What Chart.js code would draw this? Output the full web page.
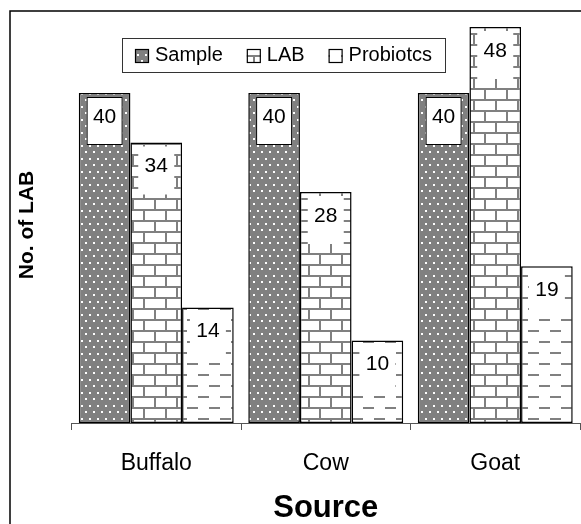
<!DOCTYPE html>
<html>
<head>
<meta charset="utf-8">
<script src="https://cdn.jsdelivr.net/npm/chart.js@4"></script>
<style>
  body { margin: 0; background: #fff; }
  canvas { display: block; }
</style>
</head>
<body>
<canvas id="chart" width="581" height="524"></canvas>
<script>
// ===== DATA =====
const categories = ["Buffalo", "Cow", "Goat"];
const seriesNames = ["Sample", "LAB", "Probiotcs"];
const sampleValues = [40, 40, 40];
const labValues = [34, 28, 48];
const probioticValues = [14, 10, 19];
const yMax = 50;

const FONT = "'Liberation Sans', Arial, sans-serif";
const GREY = "#808080";

const canvas = document.getElementById("chart");
const ctx = canvas.getContext("2d");

// ===== PATTERNS =====
function makePattern(w, h, bg, fg, rects) {
  const tile = document.createElement("canvas");
  tile.width = w;
  tile.height = h;
  const g = tile.getContext("2d");
  g.fillStyle = bg;
  g.fillRect(0, 0, w, h);
  g.fillStyle = fg;
  rects.forEach(r => g.fillRect(r[0], r[1], r[2], r[3]));
  return ctx.createPattern(tile, "repeat");
}

// grey with white dots
const dotsPattern = makePattern(8, 13, GREY, "#fff", [[1, 2, 2, 2], [5, 8, 2, 2]]);
// bricks
const brickPattern = makePattern(22, 22, "#fff", GREY, [
  [0, 0, 22, 2], [0, 11, 22, 2], [0, 0, 2, 11], [11, 11, 2, 11]
]);
// dashes
const dashPattern = makePattern(22, 22, "#fff", GREY, [[0, 0, 11, 2], [11, 11, 11, 2]]);

const patterns = [dotsPattern, brickPattern, dashPattern];

// ===== PLUGIN: frame, labels, legend, y title =====
const decorations = {
  id: "decorations",
  beforeDraw(chart) {
    const c = chart.ctx;
    c.save();
    c.strokeStyle = "#000";
    c.lineWidth = 1.5;
    c.beginPath();
    c.moveTo(10, 524);
    c.lineTo(10, 11);
    c.lineTo(581, 11);
    c.stroke();
    c.restore();
  },
  afterDatasetsDraw(chart) {
    const c = chart.ctx;
    c.save();
    c.font = "21px " + FONT;
    c.textAlign = "center";
    c.textBaseline = "middle";
    chart.data.datasets.forEach((ds, i) => {
      chart.getDatasetMeta(i).data.forEach((bar, j) => {
        const bx = bar.x - 18, by = bar.y + 4;
        c.fillStyle = "#fff";
        c.fillRect(bx, by, 36, 48);
        if (i === 0) {
          c.strokeStyle = "#000";
          c.lineWidth = 1;
          c.strokeRect(bx + 0.5, by + 0.5, 35, 47);
        }
        c.fillStyle = "#000";
        c.fillText(String(ds.data[j]), bar.x, bar.y + 24);
      });
    });
    c.restore();
  },
  afterDraw(chart) {
    const c = chart.ctx;
    c.save();
    // legend
    c.fillStyle = "#fff";
    c.fillRect(122, 38, 324, 35);
    c.strokeStyle = "#333";
    c.lineWidth = 1;
    c.strokeRect(122.5, 38.5, 323, 34);
    c.font = "20px " + FONT;
    c.textBaseline = "alphabetic";
    c.textAlign = "left";
    let x = 135;
    chart.data.datasets.forEach(ds => {
      c.fillStyle = ds.backgroundColor;
      c.fillRect(x, 49, 14, 14);
      c.strokeStyle = "#000";
      c.lineWidth = 1.2;
      c.strokeRect(x + 0.5, 49.5, 13, 13);
      c.fillStyle = "#000";
      c.fillText(ds.label, x + 20, 61);
      x += 20 + c.measureText(ds.label).width + 24;
    });
    // y title
    c.translate(27.5, 225);
    c.rotate(-Math.PI / 2);
    c.font = "bold 21px " + FONT;
    c.textAlign = "center";
    c.textBaseline = "middle";
    c.fillText("No. of LAB", 0, 0);
    c.restore();
  }
};

// ===== CHART =====
const valueSets = [sampleValues, labValues, probioticValues];

new Chart(canvas, {
  type: "bar",
  data: {
    labels: categories,
    datasets: seriesNames.map((name, i) => ({
      label: name,
      data: valueSets[i],
      backgroundColor: patterns[i],
      borderColor: "#000",
      borderWidth: 1.5,
      borderSkipped: false,
      categoryPercentage: 0.914,
      barPercentage: 1
    }))
  },
  options: {
    responsive: false,
    animation: false,
    devicePixelRatio: 1,
    layout: { padding: { top: 10.5, left: 71.5, right: 1, bottom: 0 } },
    plugins: {
      legend: { display: false },
      tooltip: { enabled: false }
    },
    scales: {
      x: {
        offset: true,
        grid: {
          offset: true,
          drawOnChartArea: false,
          drawTicks: true,
          tickLength: 7,
          color: "#555",
          lineWidth: 1
        },
        border: { display: true, color: "#555", width: 1 },
        ticks: {
          color: "#000",
          padding: 20,
          font: { family: FONT, size: 23 }
        },
        title: {
          display: true,
          text: "Source",
          color: "#000",
          font: { family: FONT, size: 31, weight: "bold", lineHeight: 1 },
          padding: { top: 0, bottom: 0 }
        },
        afterFit(scale) { scale.height = 101; }
      },
      y: {
        display: false,
        min: 0,
        max: yMax
      }
    }
  },
  plugins: [decorations]
});
</script>
</body>
</html>
